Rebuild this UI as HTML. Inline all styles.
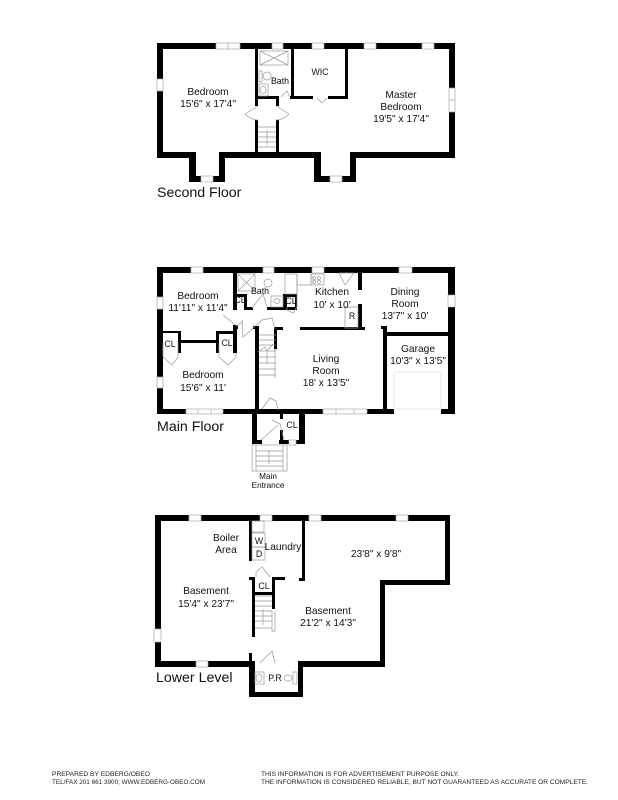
<!DOCTYPE html>
<html><head><meta charset="utf-8"><style>
html,body{margin:0;padding:0;background:#fff}
svg{display:block;filter:blur(.25px)}
text{font-family:"Liberation Sans",sans-serif;fill:#111;font-size:10.2px}
.m{text-anchor:middle}
.t{font-size:14.2px}
.f{font-size:6.6px;fill:#222}
.s{font-size:8.8px}
.w{fill:#fff;stroke:#aaa;stroke-width:.7}
.l{fill:none;stroke:#999;stroke-width:.7}
.k{fill:#000}
</style></head><body>
<svg width="618" height="800" viewBox="0 0 618 800" xmlns="http://www.w3.org/2000/svg">
<rect width="618" height="800" fill="#fff"/>

<!-- SECOND FLOOR -->
<g class="k">
<path d="M157 43H455V158H356V182H314V158H225V182H189V158H157ZM163 49V152H196V176H219V152H321V176H350V152H449V49Z" fill-rule="evenodd"/>
<rect x="255" y="49" width="3" height="57"/><rect x="255" y="120" width="3" height="33"/>
<rect x="276" y="120" width="3" height="33"/><rect x="276" y="96" width="3" height="10"/>
<rect x="255" y="96" width="24" height="3"/>
<rect x="291" y="49" width="3" height="49"/>
<rect x="290" y="96" width="23" height="3"/><rect x="328" y="96" width="20" height="3"/>
<rect x="345" y="49" width="3" height="49"/>
</g>
<g class="w">
<rect x="216" y="43" width="12" height="6"/><rect x="228" y="43" width="12" height="6"/>
<rect x="272" y="43" width="11" height="6"/><rect x="312" y="43" width="12" height="6"/>
<rect x="364" y="43" width="12" height="6"/><rect x="422" y="43" width="12" height="6"/>
<rect x="157" y="79" width="6" height="12"/><rect x="449" y="88" width="6" height="12"/><rect x="449" y="100" width="6" height="12"/>
<rect x="201" y="176" width="12" height="6"/><rect x="330" y="176" width="12" height="6"/>
</g>
<g class="l">
<rect x="260" y="51" width="28" height="14"/><path d="M260 51L288 65M288 51L260 65"/>
<ellipse cx="267" cy="76" rx="4" ry="4"/><path d="M259 71h3v11h-3z"/>
<rect x="259" y="84" width="9" height="12"/><ellipse cx="263" cy="90" rx="3" ry="4"/>
<path d="M245 114L258 106M276 106L289 114M245 114Q251 120 258 120M289 114Q283 120 276 120"/>
<path d="M258 127h18M258 132h18M258 137h18M258 142h18M258 147h18M267 130v15"/>
<path d="M281 97L287 91 290 97M317 98L322 103 327 98"/>
</g>
<text class="m" x="208" y="95">Bedroom</text>
<text class="m" x="208" y="107">15'6" x 17'4"</text>
<text class="m s" x="280" y="84">Bath</text>
<text class="m s" x="320" y="75">WIC</text>
<text class="m" x="401" y="98">Master</text>
<text class="m" x="401" y="110">Bedroom</text>
<text class="m" x="401" y="122">19'5" x 17'4"</text>
<text class="t" x="157" y="197">Second Floor</text>

<!-- MAIN FLOOR -->
<g class="k">
<path d="M157 267H455V414H157ZM163 273V409H448V273Z" fill-rule="evenodd"/>
<rect x="233" y="273" width="4" height="37"/><rect x="233" y="294" width="14" height="3"/>
<rect x="244" y="294" width="3" height="15"/><rect x="244" y="307" width="9" height="3"/>
<rect x="267" y="307" width="30" height="3"/><rect x="283" y="294" width="4" height="15"/>
<rect x="283" y="294" width="14" height="3"/><rect x="295" y="294" width="2" height="15"/>
<rect x="358" y="267" width="4" height="23"/><rect x="358" y="304" width="4" height="25"/>
<rect x="300" y="327" width="65" height="3"/>
<rect x="255" y="326" width="4" height="88"/><rect x="253" y="326" width="6" height="3"/>
<rect x="274" y="327" width="9" height="3"/><rect x="274" y="327" width="3" height="22"/>
<rect x="383" y="326" width="4" height="84"/><rect x="381" y="326" width="6" height="3"/>
<rect x="383" y="332" width="65" height="4"/>
<rect x="163" y="331" width="18" height="2"/><rect x="178" y="331" width="3" height="22"/>
<rect x="181" y="340" width="35" height="3"/><rect x="216" y="331" width="3" height="22"/>
<rect x="216" y="331" width="21" height="3"/><rect x="233" y="325" width="4" height="28"/><rect x="233" y="325" width="5" height="4"/>
<rect x="252" y="409" width="5" height="35"/><rect x="252" y="440" width="10" height="4"/>
<rect x="279" y="440" width="11" height="4"/><rect x="296" y="440" width="9" height="4"/>
<rect x="299" y="409" width="6" height="35"/><rect x="280" y="412" width="3" height="7"/><rect x="280" y="430" width="3" height="14"/>
</g>
<g class="w">
<rect x="191" y="267" width="12" height="6"/><rect x="263" y="267" width="11" height="6"/>
<rect x="312" y="267" width="12" height="6"/><rect x="399" y="267" width="13" height="6"/>
<rect x="157" y="297" width="6" height="12"/><rect x="157" y="377" width="6" height="11"/><rect x="448" y="295" width="7" height="12"/>
<rect x="186" y="409" width="37" height="5"/><path d="M198 409v5M211 409v5"/>
<rect x="323" y="409" width="44" height="5"/><path d="M336 409v5M354 409v5"/>
<rect x="289" y="440" width="7" height="5"/>
</g>
<rect x="394" y="409" width="47" height="5" fill="#fff"/>
<rect x="394" y="372" width="47" height="37" fill="none" stroke="#ddd" stroke-width=".7"/>
<g class="l">
<rect x="238" y="274" width="17" height="17"/><path d="M238 274L255 291M255 274L238 291"/>
<ellipse cx="268" cy="283" rx="4" ry="4"/>
<rect x="285" y="274" width="12" height="20"/><rect x="271" y="296" width="12" height="11"/><ellipse cx="277" cy="301" rx="3" ry="2.5"/>
<path d="M252 308L263 294 267 307M223 315L237 326 243 321M242 320L243 337 262 320 272 318 275 329"/>
<path d="M163 343v14l9 8 6-8V343M219 343v14l9 8 8-8v-4"/>
<path d="M287 307v3l6 3 4-6"/>
<path d="M259 335h17M259 340h17M259 345h17M259 351h17M259 357h17M259 363h17M259 369h17M259 375h17M275 349v29M267 352v12"/>
<path d="M258 352L265 347 267 351 273 344"/>
<path d="M262 409L270 398 276 401 278 410M272 420L280 424 284 440M261 440L278 425"/>
<rect x="252" y="445" width="35" height="26"/><path d="M256 445v26M283 445v26M256 451h27M256 456h27M256 461h27M256 466h27M269 450v14"/>
<path d="M339 273L345 285 354 273 339 273"/>
<rect x="311" y="274" width="13" height="11"/><circle cx="314" cy="278" r="1.5"/><circle cx="319" cy="278" r="1.5"/><circle cx="314" cy="282" r="1.5"/><circle cx="319" cy="282" r="1.5"/>
<path d="M297 274v33M311 274v11h-14M345 307H358v21H345z"/>
</g>
<text class="m" x="198" y="299">Bedroom</text>
<text class="m" x="198" y="311">11'11" x 11'4"</text>
<text class="m s" x="260" y="294">Bath</text>
<text class="m s" x="240" y="303">CL</text>
<text class="m s" x="291" y="304">CL</text>
<text class="m" x="332" y="295">Kitchen</text>
<text class="m" x="332" y="308">10' x 10'</text>
<text class="m s" x="352" y="319">R</text>
<text class="m" x="405" y="295">Dining</text>
<text class="m" x="405" y="307">Room</text>
<text class="m" x="405" y="319">13'7" x 10'</text>
<text class="m" x="418" y="352">Garage</text>
<text class="m" x="418" y="364">10'3" x 13'5"</text>
<text class="m s" x="170" y="347">CL</text>
<text class="m s" x="227" y="346">CL</text>
<text class="m" x="203" y="378">Bedroom</text>
<text class="m" x="203" y="391">15'6" x 11'</text>
<text class="m" x="326" y="362">Living</text>
<text class="m" x="326" y="374">Room</text>
<text class="m" x="326" y="386">18' x 13'5"</text>
<text class="m s" x="292" y="428">CL</text>
<text class="m" x="268" y="479" style="font-size:8.2px">Main</text>
<text class="m" x="268" y="488" style="font-size:8.2px">Entrance</text>
<text class="t" x="157" y="431">Main Floor</text>

<!-- LOWER LEVEL -->
<g class="k">
<path d="M155 515H450V585H385V667H303V697H249V667H155ZM161 521V661H255V692H298V661H380V580H445V521Z" fill-rule="evenodd"/>
<rect x="249" y="521" width="3" height="40"/>
<rect x="249" y="577" width="6" height="3"/><rect x="252" y="577" width="3" height="60"/>
<rect x="249" y="653" width="3" height="10"/>
<rect x="255" y="592" width="20" height="3"/><rect x="272" y="577" width="3" height="32"/><rect x="272" y="577" width="13" height="3"/>
<rect x="302" y="521" width="3" height="59"/><rect x="299" y="578" width="6" height="3"/>
</g>
<rect x="255" y="661" width="20" height="6" fill="#fff"/>
<g class="w">
<rect x="189" y="515" width="12" height="6"/><rect x="260" y="515" width="12" height="6"/>
<rect x="309" y="515" width="12" height="6"/><rect x="396" y="515" width="12" height="6"/>
<rect x="154" y="629" width="7" height="13"/><rect x="196" y="661" width="12" height="6"/>
</g>
<g class="l">
<rect x="252" y="521" width="12" height="11"/><rect x="252" y="533" width="13" height="14"/><rect x="252" y="547" width="13" height="13"/>
<path d="M256 577V572L262 567 270 577"/>
<path d="M255 596h17M255 601h17M255 606h17M255 611h17M255 616h17M255 621h17M255 628h17M272 611v20h3v-20M263 609v16"/>
<path d="M260 663L272 651 275 663"/>
<ellipse cx="259" cy="678" rx="3" ry="4"/><rect x="255" y="672" width="9" height="12"/>
<ellipse cx="288" cy="678" rx="4" ry="3"/><rect x="293" y="672" width="4" height="12"/>
</g>
<text class="m" x="226" y="541">Boiler</text>
<text class="m" x="226" y="553">Area</text>
<text class="m s" x="259" y="544">W</text>
<text class="m s" x="259" y="557">D</text>
<text class="m" x="283" y="550">Laundry</text>
<text class="m" x="376" y="557">23'8" x 9'8"</text>
<text class="m" x="206" y="594">Basement</text>
<text class="m" x="206" y="607">15'4" x 23'7"</text>
<text class="m s" x="264" y="589">CL</text>
<text class="m" x="328" y="614">Basement</text>
<text class="m" x="328" y="626">21'2" x 14'3"</text>
<text class="m s" x="275" y="681">P.R</text>
<text class="t" x="156" y="682">Lower Level</text>

<!-- FOOTER -->
<text class="f" x="52" y="776" textLength="98" lengthAdjust="spacingAndGlyphs">PREPARED BY EDBERG/OBEO</text>
<text class="f" x="52" y="784" textLength="153" lengthAdjust="spacingAndGlyphs">TEL/FAX 201 661 3900; WWW.EDBERG-OBEO.COM</text>
<text class="f" x="261" y="776" textLength="198" lengthAdjust="spacingAndGlyphs">THIS INFORMATION IS FOR ADVERTISEMENT PURPOSE ONLY.</text>
<text class="f" x="261" y="784" textLength="327" lengthAdjust="spacingAndGlyphs">THE INFORMATION IS CONSIDERED RELIABLE, BUT NOT GUARANTEED AS ACCURATE OR COMPLETE.</text>
</svg>
</body></html>
